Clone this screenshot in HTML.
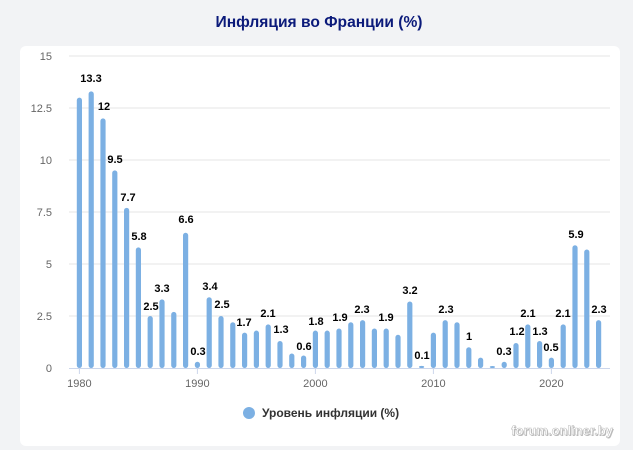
<!DOCTYPE html>
<html><head><meta charset="utf-8"><style>
body{margin:0;background:#f2f3f5;width:633px;height:450px;overflow:hidden;font-family:"Liberation Sans","DejaVu Sans",sans-serif}
</style></head><body>
<svg width="633" height="450" xmlns="http://www.w3.org/2000/svg" style="position:absolute;left:0;top:0">
<rect x="0" y="0" width="633" height="450" fill="#f2f3f5"/>
<rect x="20" y="46" width="600" height="400" rx="6" fill="#fff"/>
<text x="319" y="27" text-anchor="middle" font-size="15.6" font-weight="bold" fill="#0b1a7a">Инфляция во Франции (%)</text>
<g stroke="#e6e6e6" stroke-width="1">
<line x1="69" x2="610" y1="56" y2="56"/><line x1="69" x2="610" y1="108" y2="108"/><line x1="69" x2="610" y1="160" y2="160"/><line x1="69" x2="610" y1="212" y2="212"/><line x1="69" x2="610" y1="264" y2="264"/><line x1="69" x2="610" y1="316" y2="316"/>
</g>
<line x1="69" x2="610" y1="368.5" y2="368.5" stroke="#ccd6eb"/>
<g stroke="#ccd6eb"><line x1="79.4" x2="79.4" y1="368" y2="374"/><line x1="197.4" x2="197.4" y1="368" y2="374"/><line x1="315.4" x2="315.4" y1="368" y2="374"/><line x1="433.4" x2="433.4" y1="368" y2="374"/><line x1="551.4" x2="551.4" y1="368" y2="374"/></g>
<g font-size="11" fill="#666" text-anchor="end">
<text x="52" y="60">15</text><text x="52" y="112">12.5</text><text x="52" y="164">10</text><text x="52" y="216">7.5</text><text x="52" y="268">5</text><text x="52" y="320">2.5</text><text x="52" y="372">0</text>
</g>
<g font-size="11" fill="#666" text-anchor="middle">
<text x="79.4" y="387">1980</text><text x="197.4" y="387">1990</text><text x="315.4" y="387">2000</text><text x="433.4" y="387">2010</text><text x="551.4" y="387">2020</text>
</g>
<g id="bars" fill="#7cb0e3"></g>
<g font-size="11" font-weight="bold" fill="#000" text-anchor="middle">
<text x="91" y="82">13.3</text><text x="104" y="110">12</text><text x="115" y="163">9.5</text><text x="128" y="201">7.7</text><text x="139" y="240">5.8</text><text x="151" y="310">2.5</text><text x="162" y="292">3.3</text><text x="186" y="223">6.6</text><text x="198" y="355">0.3</text><text x="210" y="290">3.4</text><text x="222" y="308">2.5</text><text x="244" y="326">1.7</text><text x="268" y="317">2.1</text><text x="281" y="333">1.3</text><text x="304" y="350">0.6</text><text x="316" y="325">1.8</text><text x="340" y="321">1.9</text><text x="362" y="313">2.3</text><text x="386" y="321">1.9</text><text x="410" y="294">3.2</text><text x="422" y="359">0.1</text><text x="446" y="313">2.3</text><text x="469" y="340">1</text><text x="504" y="355">0.3</text><text x="517" y="335">1.2</text><text x="528" y="317">2.1</text><text x="540" y="335">1.3</text><text x="551" y="351">0.5</text><text x="563" y="317">2.1</text><text x="576" y="238">5.9</text><text x="599" y="313">2.3</text>
</g>
<circle cx="249" cy="413" r="6" fill="#7cb0e3"/>
<text x="262" y="417" font-size="12" font-weight="bold" fill="#333">Уровень инфляции (%)</text>
<text x="613" y="435" text-anchor="end" font-size="13" font-weight="bold" fill="#777" opacity="0.5" transform="translate(1,1)">forum.onliner.by</text>
<text x="613" y="435" text-anchor="end" font-size="13" font-weight="bold" fill="#fff" stroke="#bbb" stroke-width="0.5">forum.onliner.by</text>
</svg>
<script>
var v=[13.0,13.3,12,9.5,7.7,5.8,2.5,3.3,2.7,6.5,0.3,3.4,2.5,2.2,1.7,1.8,2.1,1.3,0.7,0.6,1.8,1.8,1.9,2.2,2.3,1.9,1.9,1.6,3.2,0.1,1.7,2.3,2.2,1.0,0.5,0.04,0.3,1.2,2.1,1.3,0.5,2.1,5.9,5.7,2.3];
var g=document.getElementById('bars'),s='';
for(var i=0;i<v.length;i++){var h=Math.max(v[i]*20.8,2),x=79.4+i*11.8-2.6;s+='<rect x="'+x+'" y="'+(368-h)+'" width="5.2" height="'+h+'" rx="2.6"/>';}
g.innerHTML=s;
</script>
</body></html>
